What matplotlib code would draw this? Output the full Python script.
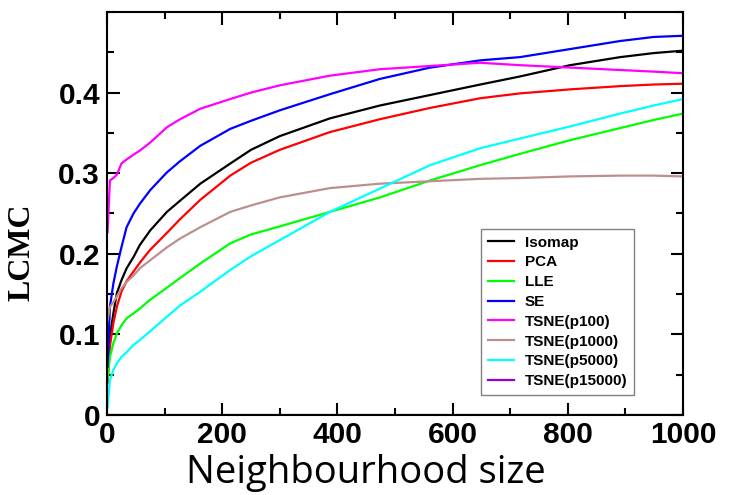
#!/usr/bin/env python3
"""LCMC versus neighbourhood size for several embedding methods."""

import numpy as np
import matplotlib
matplotlib.use('Agg')
import matplotlib.pyplot as plt
from matplotlib.ticker import MultipleLocator, FuncFormatter

k = [1, 5, 11, 17, 25, 34, 46, 57, 75, 104, 127, 162, 214, 250, 300, 387, 474,
     561, 648, 717, 804, 891, 949, 1000]

isomap = [0.050, 0.097, 0.126, 0.151, 0.167, 0.182, 0.196, 0.211, 0.229, 0.252,
          0.266, 0.287, 0.312, 0.329, 0.346, 0.368, 0.384, 0.397, 0.410, 0.420,
          0.434, 0.444, 0.449, 0.452]
pca = [0.040, 0.085, 0.114, 0.134, 0.153, 0.166, 0.178, 0.189, 0.205, 0.226,
       0.243, 0.267, 0.297, 0.313, 0.329, 0.351, 0.367, 0.381, 0.393, 0.399,
       0.404, 0.408, 0.410, 0.411]
lle = [0.045, 0.072, 0.089, 0.101, 0.111, 0.120, 0.126, 0.132, 0.143, 0.158,
       0.170, 0.188, 0.213, 0.224, 0.234, 0.252, 0.270, 0.291, 0.310, 0.324,
       0.341, 0.356, 0.366, 0.374]
se = [0.060, 0.134, 0.163, 0.184, 0.208, 0.233, 0.250, 0.262, 0.279, 0.301,
      0.315, 0.334, 0.355, 0.365, 0.378, 0.398, 0.417, 0.431, 0.440, 0.444,
      0.454, 0.464, 0.469, 0.4705]
tsne_p100 = [0.227, 0.291, 0.294, 0.298, 0.312, 0.317, 0.323, 0.328, 0.338, 0.357,
             0.367, 0.380, 0.392, 0.400, 0.409, 0.421, 0.429, 0.433, 0.437, 0.434,
             0.431, 0.428, 0.426, 0.424]
tsne_p1000 = [0.118, 0.134, 0.140, 0.147, 0.157, 0.165, 0.173, 0.182, 0.192, 0.208,
              0.219, 0.233, 0.252, 0.260, 0.270, 0.2815, 0.287, 0.290, 0.293, 0.294,
              0.296, 0.297, 0.297, 0.296]
tsne_p5000 = [0.010, 0.043, 0.056, 0.064, 0.072, 0.078, 0.087, 0.093, 0.104, 0.122,
              0.136, 0.153, 0.180, 0.197, 0.217, 0.252, 0.281, 0.310, 0.331, 0.343,
              0.358, 0.374, 0.384, 0.392]
tsne_p15000 = [0.0, 0.0, 0.0, 0.0, 0.0, 0.0, 0.0, 0.0, 0.0, 0.0, 0.0, 0.0,
               0.0, 0.0, 0.0, 0.0, 0.0, 0.0, 0.0, 0.0, 0.0, 0.0, 0.0, 0.0]

series = [
    ('Isomap', isomap, 'black'),
    ('PCA', pca, '#ff0000'),
    ('LLE', lle, '#00ff00'),
    ('SE', se, '#0000ff'),
    ('TSNE(p100)', tsne_p100, '#ff00ff'),
    ('TSNE(p1000)', tsne_p1000, '#bc8f8f'),
    ('TSNE(p5000)', tsne_p5000, '#00ffff'),
    ('TSNE(p15000)', tsne_p15000, '#9400d3'),
]

SANS = 'Liberation Sans'

fig = plt.figure(figsize=(7.38, 4.95), dpi=100)
ax = fig.add_axes([0.145, 0.1616, 0.7805, 0.8142])

for name, vals, col in series:
    ax.plot(k, vals, color=col, lw=1.6, label=name, zorder=2)

ax.set_xlim(0, 1000)
ax.set_ylim(0, 0.5)
ax.xaxis.set_major_locator(MultipleLocator(200))
ax.xaxis.set_minor_locator(MultipleLocator(100))
ax.yaxis.set_minor_locator(MultipleLocator(0.05))
ax.set_yticks([0, 0.1, 0.2, 0.3, 0.4])
ax.yaxis.set_major_formatter(FuncFormatter(lambda v, p: '0' if v == 0 else f'{v:.1f}'))
ax.xaxis.set_major_formatter(FuncFormatter(lambda v, p: f'{v:.0f}'))

ax.tick_params(which='both', direction='in', top=True, right=True, width=1.5)
ax.tick_params(which='major', length=9)
ax.tick_params(which='minor', length=5)
ax.tick_params(axis='x', which='major', pad=4)
ax.tick_params(axis='y', which='major', pad=5)
for lab in ax.get_xticklabels() + ax.get_yticklabels():
    lab.set_fontfamily(SANS)
    lab.set_fontweight('bold')
    lab.set_fontsize(21.5)
for sp in ax.spines.values():
    sp.set_linewidth(1.5)

leg = ax.legend(loc='lower left', bbox_to_anchor=(0.650, 0.0496),
                prop={'family': SANS, 'weight': 'bold', 'size': 11},
                frameon=True, fancybox=False, framealpha=1, edgecolor='#808080',
                handlelength=1.7, handletextpad=0.7, labelspacing=0.38,
                borderpad=0.45, borderaxespad=0)
leg.get_frame().set_linewidth(1.0)

fig.text(366 / 738, (495 - 483) / 495, 'Neighbourhood size', family='Open Sans',
         fontsize=27.5, ha='center', va='baseline')
fig.text(22 / 738, 1 - 252 / 495, 'LCMC', family='Liberation Serif',
         fontweight='bold', fontsize=23, rotation=90, ha='center', va='center')

fig.savefig('out.png', dpi=100)
